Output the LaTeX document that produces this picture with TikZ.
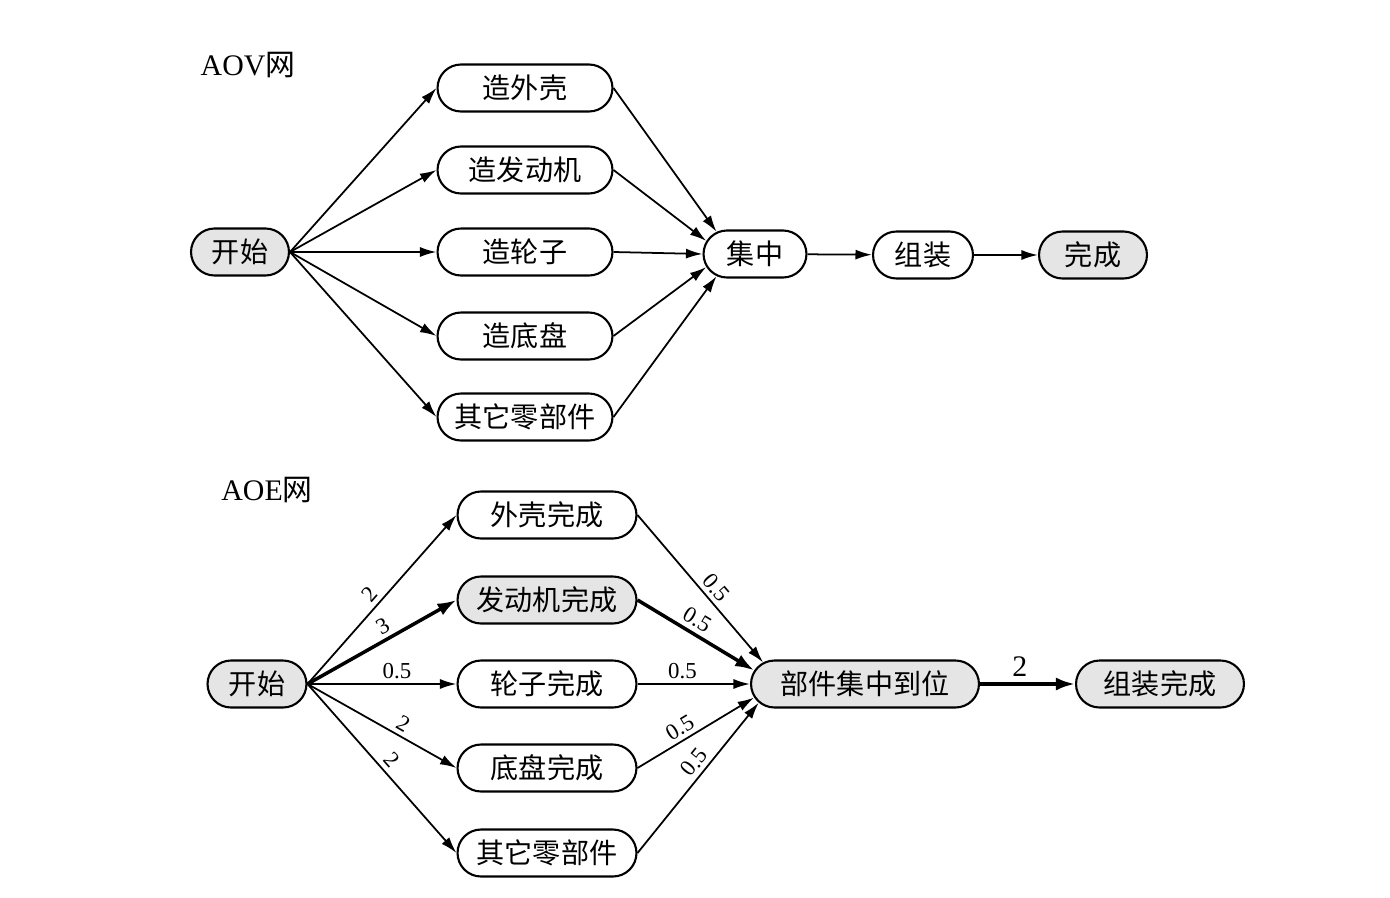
\documentclass[tikz,border=0pt]{standalone}
\usepackage{fontspec}
\setmainfont{Liberation Serif}
\newfontfamily\cjk{Noto Sans CJK SC}
\usetikzlibrary{shapes.misc,arrows.meta}

\begin{document}
\begin{tikzpicture}[
    evt/.style={rounded rectangle, draw, line width=1.2pt, minimum height=0.94cm,
      inner xsep=2pt, font=\cjk\fontsize{16}{18}\selectfont},
    done/.style={fill=black!10},
    wt/.style={font=\fontsize{13}{15}\selectfont, inner sep=2.5pt},
    arc/.style={line width=1pt, -{Latex[length=3.3mm,width=2mm]}},
    crit/.style={line width=2pt, -{Latex[length=3.8mm,width=2.6mm]}}
  ]
    \def\x{0.02}
    \def\y{-0.02}
    \useasboundingbox (0,0) rectangle (1390*\x, 898*\y);
    % AOV
    \node at (248*\x, 65*\y) {\fontsize{17}{19}\selectfont AOV{\cjk 网}};
    \node (A2_0) [evt, done, minimum width=2.1cm] at (240*\x, 252*\y) {开始};
    \node (A0_1) [evt, minimum width=3.64cm] at (525*\x, 88*\y) {造外壳};
    \node (A1_1) [evt, minimum width=3.64cm] at (525*\x, 170*\y) {造发动机};
    \node (A2_1) [evt, minimum width=3.64cm] at (525*\x, 252*\y) {造轮子};
    \node (A3_1) [evt, minimum width=3.64cm] at (525*\x, 336*\y) {造底盘};
    \node (A4_1) [evt, minimum width=3.64cm] at (525*\x, 417*\y) {其它零部件};
    \node (A2_2) [evt, minimum width=2.2cm] at (755*\x, 254*\y) {集中};
    \node (A2_3) [evt, minimum width=2.14cm] at (923*\x, 255*\y) {组装};
    \node (A2_4) [evt, done, minimum width=2.3cm] at (1093*\x, 255*\y) {完成};
    \foreach \r in {0,...,4}
      \path (A2_0.east) edge [arc] (A\r_1.west);
    \path (A0_1.east) edge [arc] (A2_2.150);
    \path (A1_1.east) edge [arc] (A2_2.165);
    \path (A2_1.east) edge [arc] (A2_2.west);
    \path (A3_1.east) edge [arc] (A2_2.195);
    \path (A4_1.east) edge [arc] (A2_2.210);
    \path (A2_2) edge [arc] (A2_3);
    \path (A2_3) edge [arc] (A2_4);
    % AOE
    \node at (267*\x, 490*\y) {\fontsize{17}{19}\selectfont AOE{\cjk 网}};
    \node (B2_0) [evt, done, minimum width=2.12cm] at (257*\x, 684*\y) {开始};
    \node (B0_1) [evt, minimum width=3.72cm] at (547*\x, 515*\y) {外壳完成};
    \node (B1_1) [evt, done, minimum width=3.72cm] at (547*\x, 600*\y) {发动机完成};
    \node (B2_1) [evt, minimum width=3.72cm] at (547*\x, 684*\y) {轮子完成};
    \node (B3_1) [evt, minimum width=3.72cm] at (547*\x, 768*\y) {底盘完成};
    \node (B4_1) [evt, minimum width=3.72cm] at (547*\x, 853*\y) {其它零部件};
    \node (B2_2) [evt, done, minimum width=4.7cm] at (865*\x, 684*\y) {部件集中到位};
    \node (B2_3) [evt, done, minimum width=3.5cm] at (1160*\x, 684*\y) {组装完成};
    \path (B2_0.east) edge [arc] node [wt, auto, sloped, pos=0.48] {2} (B0_1.west);
    \path (B2_0.east) edge [crit] node [wt, auto, sloped, pos=0.55] {3} (B1_1.west);
    \path (B2_0.east) edge [arc] node [wt, auto, pos=0.6] {0.5} (B2_1.west);
    \path (B2_0.east) edge [arc] node [wt, auto, sloped, pos=0.6] {2} (B3_1.west);
    \path (B2_0.east) edge [arc] node [wt, auto, sloped, pos=0.5] {2} (B4_1.west);
    \path (B0_1.east) edge [arc] node [wt, auto, sloped, pos=0.55] {0.5} (B2_2.168);
    \path (B1_1.east) edge [crit] node [wt, auto, sloped, pos=0.45] {0.5} (B2_2.173);
    \path (B2_1.east) edge [arc] node [wt, auto, pos=0.4] {0.5} (B2_2.west);
    \path (B3_1.east) edge [arc] node [wt, auto, sloped, pos=0.42] {0.5} (B2_2.187);
    \path (B4_1.east) edge [arc] node [wt, auto, sloped, pos=0.55] {0.5} (B2_2.190);
    \path (B2_2) edge [crit] node [auto, pos=0.42, font=\fontsize{17}{19}\selectfont] {2} (B2_3);
  \end{tikzpicture}
\end{document}
